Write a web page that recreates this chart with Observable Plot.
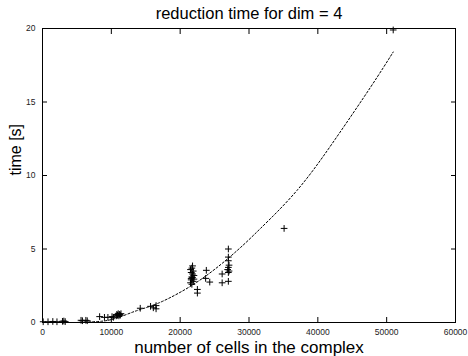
<!DOCTYPE html>
<html>
<head>
<meta charset="utf-8">
<script src="https://cdn.jsdelivr.net/npm/d3@7"></script>
<script src="https://cdn.jsdelivr.net/npm/@observablehq/plot@0.6"></script>
<style>
  html, body { margin: 0; padding: 0; background: #fff; }
  #chart svg { display: block; }
</style>
</head>
<body>
<div id="chart"></div>
<script>
// ---- data ----
const titleText = "reduction time for dim = 4";
const xLabelText = "number of cells in the complex";
const yLabelText = "time [s]";

const xTicks = [0, 10000, 20000, 30000, 40000, 50000, 60000];
const yTicks = [0, 5, 10, 15, 20];

// measured points (number of cells, time)
const cells = [
  100, 800, 1500, 2100, 2900, 3100, 3300,
  5600, 5800, 6300, 6500,
  8300, 9000, 9500, 10100, 10300,
  10700, 10800, 10900, 11000, 11100, 11200, 11300, 11400,
  14200, 15700, 16100, 16500, 16500,
  21500, 21600, 21700, 21800, 21600, 21900, 21700, 21800, 21600, 21900, 21700, 22000, 21500, 21800, 22000,
  22500, 22500,
  23800, 23700, 24300,
  26100, 26100,
  27000, 27000, 27000, 27100, 27000, 26900, 27100, 27000, 27000,
  35100,
  50950
];
const times = [
  0.05, 0.05, 0.07, 0.05, 0.08, 0.1, 0.06,
  0.15, 0.12, 0.15, 0.12,
  0.4, 0.35, 0.35, 0.4, 0.35,
  0.45, 0.55, 0.5, 0.6, 0.45, 0.55, 0.5, 0.6,
  0.97, 1.1, 1.0, 0.93, 1.15,
  2.7, 2.9, 3.1, 3.3, 3.4, 3.5, 3.7, 3.85, 3.0, 2.8, 2.6, 3.2, 3.6, 3.05, 2.95,
  2.25, 2.0,
  3.55, 3.0, 2.75,
  3.3, 2.7,
  5.0, 4.45, 4.2, 3.9, 3.75, 3.6, 3.5, 3.4, 2.8,
  6.4,
  19.9
];

// dashed fit curve
const fitCells = [5000, 7000, 10000, 13657, 17000, 22800, 28290, 31672, 37000, 42423, 47650, 50950];
const fitTimes = [0.0, 0.05, 0.2, 0.8, 1.35, 2.86, 4.9, 6.4, 9.0, 12.4, 16.0, 18.4];

const points = cells.map((c, i) => ({cells: c, time: times[i]}));
const fit = fitCells.map((c, i) => ({cells: c, time: fitTimes[i]}));

const font = "'Liberation Sans', Arial, Helvetica, sans-serif";

const chart = Plot.plot({
  width: 468,
  height: 356,
  marginLeft: 42,
  marginRight: 13,
  marginTop: 28,
  marginBottom: 34,
  style: {fontFamily: font, background: "#fff", color: "#000", overflow: "visible"},
  x: {domain: [0, 60000]},
  y: {domain: [0, 20]},
  marks: [
    Plot.frame({stroke: "#000", strokeWidth: 1}),
    // inward ticks, all four sides
    Plot.axisX({anchor: "bottom", ticks: xTicks, tickSize: -5, tickFormat: () => "", label: null}),
    Plot.axisX({anchor: "top", ticks: xTicks, tickSize: -5, tickFormat: () => "", label: null}),
    Plot.axisY({anchor: "left", ticks: yTicks, tickSize: -5, tickFormat: () => "", label: null}),
    Plot.axisY({anchor: "right", ticks: yTicks, tickSize: -5, tickFormat: () => "", label: null}),
    // tick labels
    Plot.axisX({anchor: "bottom", ticks: xTicks, tickSize: 0, tickPadding: 6, tickFormat: d3.format("d"), fontSize: 8.5, fill: "#222", label: null}),
    Plot.axisY({anchor: "left", ticks: yTicks, tickSize: 0, tickPadding: 7, tickFormat: d3.format("d"), fontSize: 8.5, fill: "#222", label: null}),
    // fit curve
    Plot.line(fit, {x: "cells", y: "time", curve: "natural", stroke: "#000", strokeWidth: 1, strokeDasharray: "2,2", clip: true}),
    // measurements
    Plot.dot(points, {x: "cells", y: "time", symbol: "plus", r: 2.3, stroke: "#000", strokeWidth: 1}),
    // texts
    Plot.text([titleText], {frameAnchor: "top", dy: -10, lineAnchor: "bottom", fontSize: 16.5, fill: "#000"}),
    Plot.text([xLabelText], {frameAnchor: "bottom", dy: 30, lineAnchor: "bottom", fontSize: 17, fill: "#000"}),
    Plot.text([yLabelText], {frameAnchor: "left", dx: -22, lineAnchor: "bottom", rotate: -90, fontSize: 16, fill: "#000"})
  ]
});
document.getElementById("chart").appendChild(chart);
</script>
</body>
</html>
